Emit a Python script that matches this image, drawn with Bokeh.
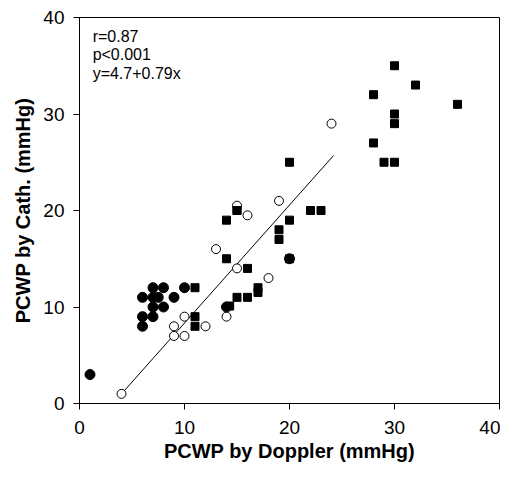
from bokeh.plotting import figure
from bokeh.models import Range1d, Label, FixedTicker
from bokeh.embed import file_html
from bokeh.resources import INLINE

# Filled circles
fc_x = [1, 7, 8, 10, 6, 7, 7.5, 9, 7, 8, 6, 7, 6, 14, 20]
fc_y = [3, 12, 12, 12, 11, 11, 11, 11, 10, 10, 9, 9, 8, 10, 15]

# Open circles
oc_x = [4, 9, 10, 9, 10, 12, 14, 15, 15, 16, 19, 13, 18, 24]
oc_y = [1, 8, 9, 7, 7, 8, 9, 14, 20.5, 19.5, 21, 16, 13, 29]

# Filled squares
sq_x = [11, 11, 11, 14.3, 15, 16, 15, 16, 17, 17, 14, 14, 15, 20, 20, 22, 23, 19, 19, 20,
        30, 32, 28, 36, 30, 30, 28, 29, 30]
sq_y = [12, 9, 8, 10.1, 11, 11, 20, 14, 12, 11.5, 15, 19, 20, 19, 25, 20, 20, 18, 17, 15,
        35, 33, 32, 31, 30, 29, 27, 25, 25]

# Regression line (as drawn)
line_x = [4, 24.2]
line_y = [1, 25.7]

ticks = [0, 10, 20, 30, 40]
stats = ["r=0.87", "p<0.001", "y=4.7+0.79x"]

FONT = "Liberation Sans"

p = figure(width=500, height=464, output_backend="svg", toolbar_location=None,
           x_range=Range1d(0, 40), y_range=Range1d(0, 40),
           min_border_left=79, min_border_right=1, min_border_top=17, min_border_bottom=60)
p.xgrid.visible = False
p.ygrid.visible = False
p.outline_line_color = "black"
p.outline_line_width = 1
p.outline_line_alpha = 1

for ax in (p.xaxis, p.yaxis):
    ax.ticker = FixedTicker(ticks=ticks)
    ax.minor_tick_line_color = None
    ax.major_tick_out = 6
    ax.major_tick_in = 0
    ax.axis_line_color = "black"
    ax.major_tick_line_color = "black"
    ax.major_label_text_font = FONT
    ax.major_label_text_font_size = "19px"
    ax.major_label_text_color = "black"
    ax.axis_label_text_font = FONT
    ax.axis_label_text_font_size = "20px"
    ax.axis_label_text_font_style = "bold"
    ax.axis_label_text_color = "black"

p.xaxis.axis_label = "PCWP by Doppler (mmHg)"
p.yaxis.axis_label = "PCWP by Cath. (mmHg)"
p.xaxis.major_label_standoff = 11
p.xaxis.axis_label_standoff = 3
p.yaxis.major_label_standoff = 9
p.yaxis.axis_label_standoff = 6

p.line(line_x, line_y, line_color="black", line_width=1)
p.scatter(oc_x, oc_y, marker="circle", size=9, fill_color="white", line_color="black", line_width=1)
p.scatter(fc_x, fc_y, marker="circle", size=10, fill_color="black", line_color="black")
p.scatter(sq_x, sq_y, marker="square", size=8, fill_color="black", line_color="black")

for i, t in enumerate(stats):
    p.add_layout(Label(x=1.25, y=38.0 - i * 1.88, text=t, text_font=FONT,
                       text_font_size="16px", text_baseline="middle", text_color="black"))

open("out.html", "w").write(file_html(p, INLINE))
